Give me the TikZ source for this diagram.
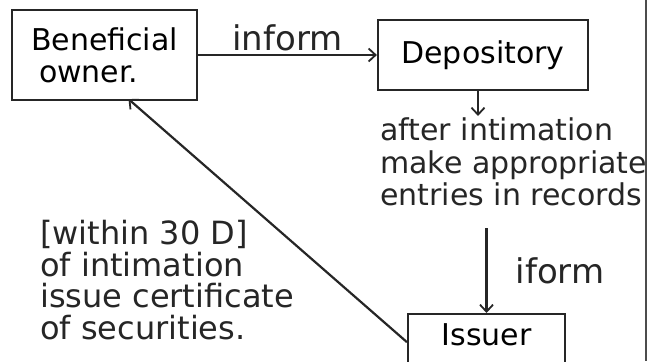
\documentclass[tikz,border=0pt]{standalone}
\usepackage{fontspec}
\setmainfont{DejaVu Sans}
\usetikzlibrary{arrows.meta}
\begin{document}
\begin{tikzpicture}[x=1pt,y=-1pt,
  ink/.style={line width=2.2pt,draw=black!85},
  box/.style={ink,rectangle,inner sep=0pt,font=\fontsize{30}{34}\selectfont},
  note/.style={inner sep=0pt,align=left,text=black!85},
  tag/.style={font=\fontsize{34}{36}\selectfont,text=black!85,inner sep=0pt},
  flow/.style={ink,-{Straight Barb[length=7pt,width=13pt,line width=1.8pt]}}
]
\useasboundingbox (0,0) rectangle (663,361);
\fill[white] (0,0) rectangle (663,361);

% parties
\node[box,minimum width=185pt,minimum height=90pt,align=left] (bo) at (104.5,55)
  {Beneficial\\[-2pt]\hspace*{8pt}owner.};
\node[box,minimum width=210pt,minimum height=70pt] (dep) at (483,55) {Depository};
\node[box,minimum width=157pt,minimum height=60pt,anchor=north] (iss) at (486.5,313)
  {\raisebox{-1pt}[0pt][0pt]{Issuer}};

% notes
\node[note,anchor=north west,font=\fontsize{30}{32.5}\selectfont] (rec) at (380,118)
  {after intimation\\make appropriate\\entries in records};
\node[note,anchor=north west,font=\fontsize{32}{31.5}\selectfont] (cert) at (40,220)
  {[within 30 D]\\of intimation\\issue certificate\\of securities.};

% connectors
\draw[flow] (bo.east) -- node[above=3pt,tag] (inf) {inform} (dep.west);
\draw[flow] ([xshift=-5pt]dep.south) -- ([xshift=-5pt]dep.south |- 0,116) coordinate (rectop);
\draw[flow] (iss.north |- 0,228) coordinate (recbot) -- node[right=28pt,tag] (ifo) {iform} (iss.north);
\draw[flow] ([yshift=2pt]iss.west) -- ([xshift=24pt,yshift=2pt]bo.south);

% page margin rule
\draw[line width=2pt,black!70] (646,0) -- (646,361);
\end{tikzpicture}
\end{document}
